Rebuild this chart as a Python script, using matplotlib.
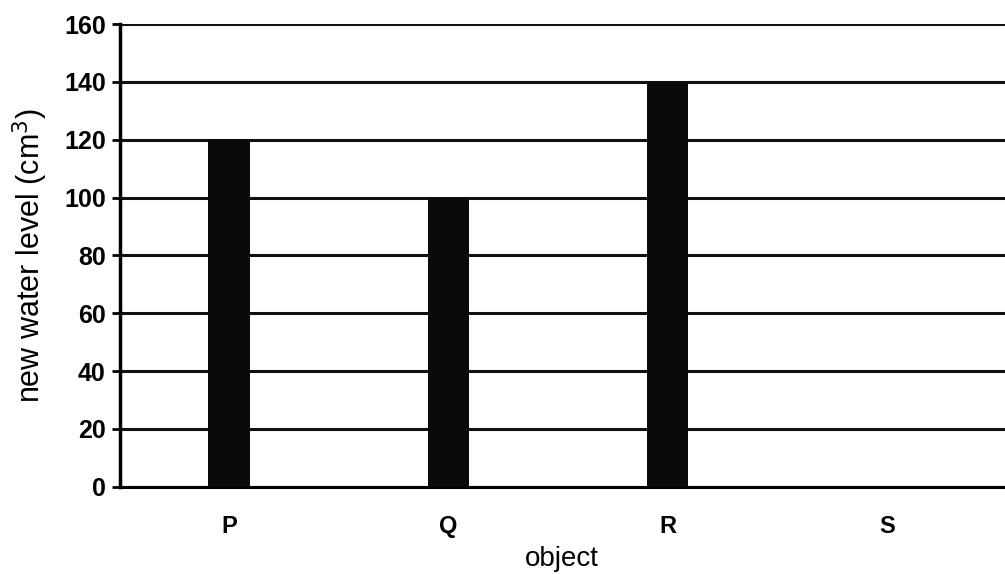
import matplotlib.pyplot as plt

plt.rcParams['font.family'] = ['Liberation Sans', 'DejaVu Sans']

objects = ['P', 'Q', 'R', 'S']
water_level = [120, 100, 140, 0]
y_ticks = [0, 20, 40, 60, 80, 100, 120, 140, 160]

fig = plt.figure(figsize=(10.05, 5.74), dpi=100)
ax = fig.add_axes([0.119, 0.152, 0.881, 0.806])

x = range(len(objects))
ax.bar(x, water_level, width=0.19, color='#0a0a0a', zorder=3)

ax.set_ylim(0, 160)
ax.set_xlim(-0.5, 3.54)
ax.set_yticks(y_ticks)
ax.set_xticks(list(x))
ax.set_xticklabels(objects, fontsize=17, fontweight='bold')
for lbl in ax.get_yticklabels():
    lbl.set_fontsize(18)
    lbl.set_fontweight('bold')

ax.yaxis.grid(True, color='#111111', linewidth=2.2, zorder=1)
ax.spines['top'].set_visible(False)
ax.spines['right'].set_visible(False)
ax.spines['left'].set_linewidth(2.5)
ax.spines['bottom'].set_linewidth(2.2)
ax.tick_params(axis='y', length=6, width=2, pad=4)
ax.tick_params(axis='x', length=0, pad=20)

ax.set_ylabel('new water level (cm$^3$)', fontsize=22, labelpad=10)
ax.set_xlabel('object', fontsize=20, labelpad=6)

fig.savefig('out.png', dpi=100, facecolor='white')
